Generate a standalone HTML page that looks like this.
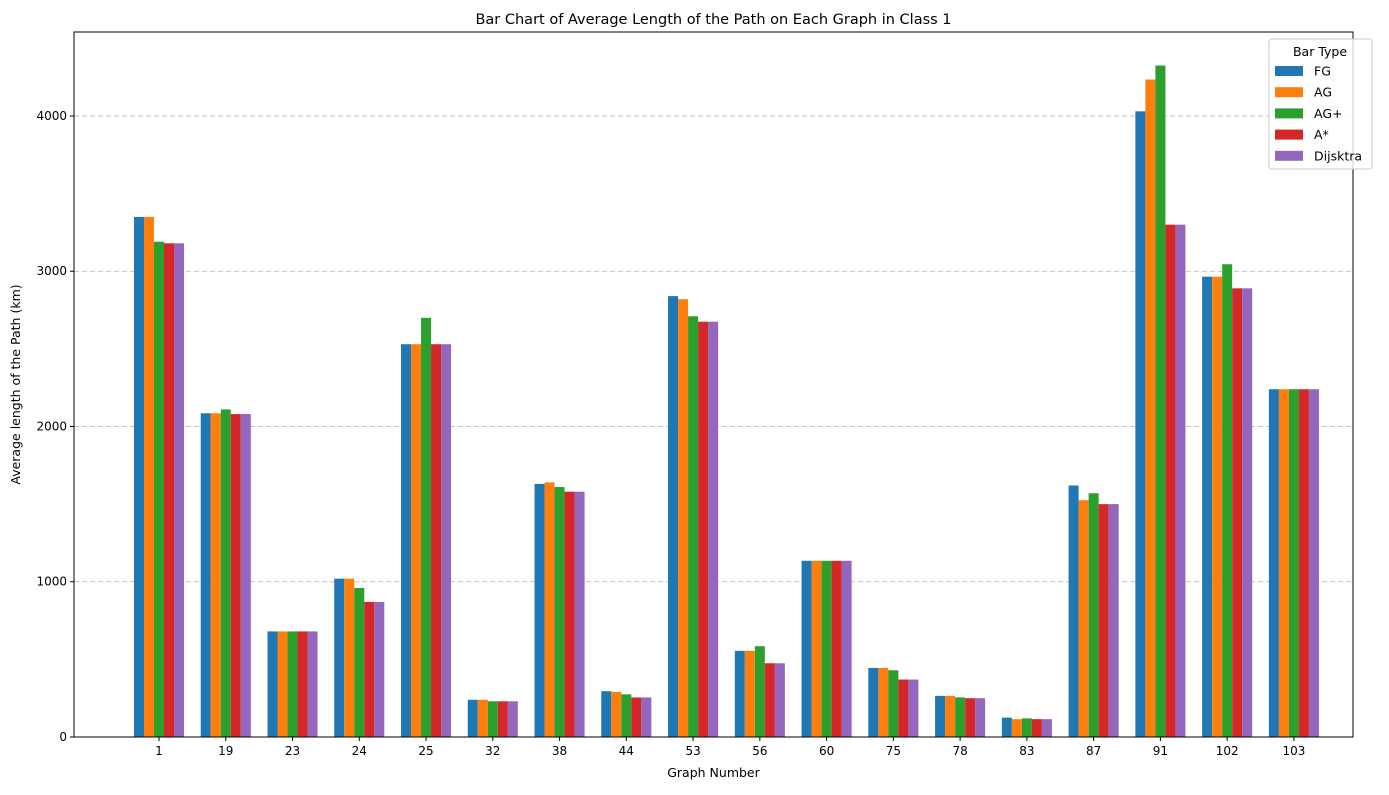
<!DOCTYPE html>
<html><head><meta charset="utf-8"><style>
body{margin:0;background:#fff;font-family:"Liberation Sans","DejaVu Sans",sans-serif;}
svg text{font-family:"DejaVu Sans","Liberation Sans",sans-serif;}
</style></head><body>
<svg id="chart" width="1389" height="790"></svg>
<script>
const categories=["1","19","23","24","25","32","38","44","53","56","60","75","78","83","87","91","102","103"];
const seriesNames=["FG","AG","AG+","A*","Dijsktra"];
const fg=[3350,2085,680,1020,2530,240,1630,295,2840,555,1135,445,265,125,1620,4030,2965,2240];
const ag=[3350,2085,680,1020,2530,240,1640,290,2820,555,1135,445,265,115,1525,4235,2965,2240];
const agPlus=[3190,2110,680,960,2700,230,1610,275,2710,585,1135,430,255,120,1570,4325,3045,2240];
const aStar=[3180,2080,680,870,2530,230,1580,255,2675,475,1135,370,250,115,1500,3300,2890,2240];
const dijkstra=[3180,2080,680,870,2530,230,1580,255,2675,475,1135,370,250,115,1500,3300,2890,2240];
const yTicks=[0,1000,2000,3000,4000];
const colors=["#1f77b4","#ff7f0e","#2ca02c","#d62728","#9467bd"];
const series=[fg,ag,agPlus,aStar,dijkstra];
const L=74,R=1353,T=32,B=737;
const y=v=>B-v*(B-T)/4541;
const unit=66.76, x=i=>159+i*unit;
const NS="http://www.w3.org/2000/svg";
const svg=document.getElementById('chart');
function mk(tag,attrs,parent){const e=document.createElementNS(NS,tag);for(const k in attrs)e.setAttribute(k,attrs[k]);(parent||svg).appendChild(e);return e;}
// grid
yTicks.forEach(t=>{if(t>0){const g=mk('line',{x1:L,x2:R,y1:y(t),y2:y(t),stroke:'#b0b0b0','stroke-dasharray':'5,3','stroke-width':0.8});

}});
// bars
series.forEach((s,k)=>{s.forEach((v,i)=>{const cx=x(i)+(k-2)*0.15*unit;const w=0.15*unit;
const r=mk('rect',{x:cx-w/2,y:y(v),width:w,height:B-y(v),fill:colors[k]});

});});
// axes frame
const fr=mk('rect',{x:L,y:T,width:R-L,height:B-T,fill:'none',stroke:'#000','stroke-width':1});


// y ticks
yTicks.forEach(t=>{mk('line',{x1:L-4,x2:L,y1:y(t),y2:y(t),stroke:'#000'});
const tx=mk('text',{x:L-7,y:y(t)+4,'text-anchor':'end','font-size':12});tx.textContent=t;

});
// x ticks
categories.forEach((c,i)=>{mk('line',{x1:x(i),x2:x(i),y1:B,y2:B+4,stroke:'#000'});
const tx=mk('text',{x:x(i),y:B+18,'text-anchor':'middle','font-size':12});tx.textContent=c;

});
// titles
let t=mk('text',{x:(L+R)/2,y:24,'text-anchor':'middle','font-size':14.5});t.textContent='Bar Chart of Average Length of the Path on Each Graph in Class 1';


t=mk('text',{x:(L+R)/2,y:777,'text-anchor':'middle','font-size':12.5});t.textContent='Graph Number';


t=mk('text',{x:20,y:(T+B)/2,'text-anchor':'middle','font-size':12.5,transform:'rotate(-90 20 '+((T+B)/2)+')'});t.textContent='Average length of the Path (km)';


// legend
const lg=mk('g',{});


mk('rect',{x:1269,y:39,width:103,height:130,rx:3,fill:'#fff','fill-opacity':0.8,stroke:'#ccc'},lg);
t=mk('text',{x:1320,y:56,'text-anchor':'middle','font-size':12.5},lg);t.textContent='Bar Type';
seriesNames.forEach((n,k)=>{const yy=71+k*21.2;
const e=mk('g',{},lg);


mk('rect',{x:1275,y:yy-5,width:28,height:10,fill:colors[k]},e);
const tt=mk('text',{x:1314,y:yy+4.5,'font-size':12.5},e);tt.textContent=n;});
</script>
</body></html>
